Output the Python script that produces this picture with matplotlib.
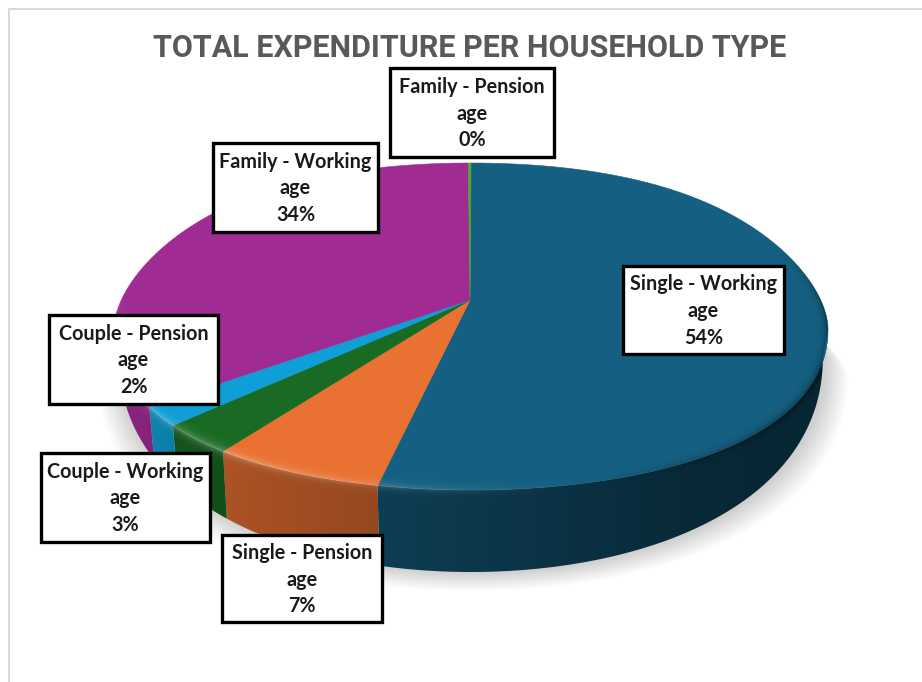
import numpy as np
import matplotlib
matplotlib.use("Agg")
import matplotlib.pyplot as plt
from matplotlib.colors import to_rgb
from matplotlib.patches import Polygon

# ---- data ----
categories = ["Single - Working\nage", "Single - Pension\nage", "Couple - Working\nage",
              "Couple - Pension\nage", "Family - Working\nage", "Family - Pension\nage"]
shares = [53.5, 7.1, 3.49, 2.3, 33.51, 0.1]
title = "TOTAL EXPENDITURE PER HOUSEHOLD TYPE"

# ---- style ----
colors = ["#156082", "#E97132", "#196B24", "#0F9ED5", "#A02B93", "#4EA72E"]
label_boxes = [(623, 266, 784, 354), (222, 535, 382, 622), (41, 453, 210, 542),
               (49, 315, 218, 404), (213, 143, 378, 232), (390, 68, 554, 157)]
CX, CY, RX, RY_TOP, RY_BOT = 471, 300, 357, 137, 190
W, H = 922, 682

fig = plt.figure(figsize=(9.22, 6.82), dpi=100, facecolor="white")
ax = fig.add_axes([0, 0, 1, 1])
ax.set_xlim(0, W)
ax.set_ylim(H, 0)
ax.axis("off")


def warp(t):
    """perspective foreshortening of the slice angle (radians, clockwise from top)"""
    return t + np.radians(6) * np.sin(2 * (t - np.pi))


def rim(t):
    t = np.asarray(t, dtype=float)
    s, c = np.sin(t), np.cos(t)
    y_low = CY - RY_BOT * c + 30 * s ** 2
    y_up = CY - RY_TOP * c + 30 * s ** 4
    return CX + RX * s, np.where(c < 0, y_low, y_up)


def base(t):
    t = np.asarray(t, dtype=float)
    s, c = np.sin(t), np.cos(t)
    return CX + 0.985 * RX * s, rim(t)[1] + 30 + 52 * np.abs(c)


edges = np.cumsum([0] + shares) / sum(shares) * 2 * np.pi
starts, ends = warp(edges[:-1]), warp(edges[1:])

# soft shadow
tt = np.radians(np.linspace(60, 300, 240))
bx, by = base(tt)
for grow in np.linspace(24, 1, 24):
    px = np.r_[CX, CX + (bx - CX) * (1 + grow / RX)]
    py = np.r_[CY, by + grow * 0.8]
    ax.fill(px + 2, py, color="black", alpha=0.007, lw=0, zorder=1)

# side wall: shading runs across the width of the pie
xs = np.arange(W) + 0.5
deg = np.degrees(np.pi - np.arcsin(np.clip((xs - CX) / RX, -1, 1)))
shade = np.interp(deg, [90, 140, 180, 200, 225, 250, 270],
                  [0.40, 0.42, 0.58, 0.66, 0.74, 0.86, 0.86])
for a, b, col in zip(starts, ends, colors):
    lo, hi = max(a, np.pi / 2), min(b, 3 * np.pi / 2)
    if hi <= lo:
        continue
    ts = np.linspace(lo, hi, max(2, int(np.degrees(hi - lo)) * 2 + 2))
    x0, y0 = rim(ts)
    x1, y1 = base(ts[::-1])
    clip = Polygon(np.c_[np.r_[x0, x1], np.r_[y0, y1]], closed=True, transform=ax.transData)
    img = np.outer(shade, np.array(to_rgb(col)))[np.newaxis, :, :]
    im = ax.imshow(img, extent=(0, W, H, 0), aspect="auto", zorder=2, interpolation="bilinear")
    im.set_clip_path(clip)
ax.set_xlim(0, W)
ax.set_ylim(H, 0)

# top surface
for a, b, col in zip(starts, ends, colors):
    ts = np.linspace(a, b, max(2, int(np.degrees(b - a) * 2) + 2))
    x, y = rim(ts)
    ax.fill(np.r_[CX - 1, x], np.r_[CY, y], color=col, lw=0.4, zorder=3)

# bevel along the rim, from an implicit rim function
gy, gx = np.mgrid[0:H, 0:W] + 0.5
s = (gx - CX) / RX
yl = gy - CY - 30 * s ** 2
yu = gy - CY - 30 * s ** 4
below = yl > 0
rho = np.where(below, np.sqrt(s ** 2 + (yl / RY_BOT) ** 2), np.sqrt(s ** 2 + (yu / RY_TOP) ** 2))
dy, dx = np.gradient(rho)
dist = (1 - rho) / np.maximum(np.hypot(dx, dy), 1e-6)
theta = np.degrees(np.arctan2(s, -np.where(below, yl / RY_BOT, yu / RY_TOP))) % 360
amt = np.interp(theta, [60, 85, 130, 165, 195, 225, 270, 285],
                [0, -0.6, -0.3, 0.0, 0.18, 0.3, 0.15, 0])
profile = np.exp(-np.maximum(dist, 0) / 3.5) * np.exp(-np.maximum(-dist, 0) / 3.0)
rgba = np.zeros((H, W, 4))
rgba[..., :3] = (amt > 0)[..., None] * 1.0
rgba[..., 3] = np.abs(amt) * profile
bu = base(np.radians(np.linspace(90, 270, 361)))
uu = rim(np.radians(np.linspace(270, 450, 361)))
sil = Polygon(np.c_[np.r_[bu[0], uu[0]], np.r_[bu[1], uu[1]]], closed=True, transform=ax.transData)
bev = ax.imshow(rgba, extent=(0, W, H, 0), aspect="auto", zorder=4, interpolation="nearest")
bev.set_clip_path(sil)
ax.set_xlim(0, W)
ax.set_ylim(H, 0)

# chart-area border
ax.plot([9, 9, 922], [682, 9, 9], color="#d9d9d9", lw=1.4, zorder=5, solid_joinstyle="miter")

# title
ax.text(470, 48, title, ha="center", va="center", fontsize=22, fontweight="bold",
        family="Roboto", color="#595959", zorder=6)

# data labels
for name, v, (x0, y0, x1, y1) in zip(categories, shares, label_boxes):
    ax.fill([x0, x1, x1, x0], [y0, y0, y1, y1], facecolor="white", edgecolor="black",
            lw=2.4, joinstyle="miter", zorder=7)
    ax.text((x0 + x1) / 2, (y0 + y1) / 2 + 1, f"{name}\n{round(v)}%", ha="center", va="center",
            fontsize=14.2, fontweight="bold", family="Lato", color="#1a1a1a",
            linespacing=1.42, zorder=8)

fig.savefig("out.png", dpi=100, facecolor="white")
